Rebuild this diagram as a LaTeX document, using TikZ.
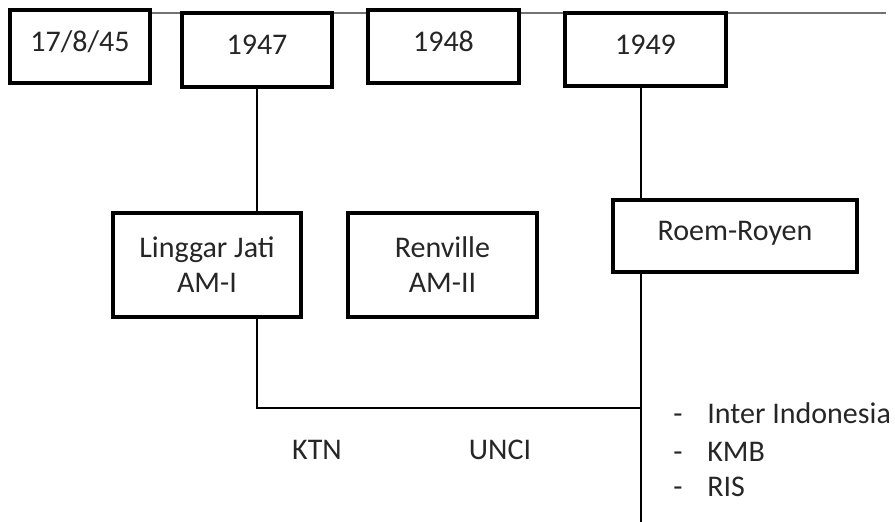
\documentclass[tikz,border=0pt]{standalone}
\usepackage{fontspec}
\setmainfont{Carlito}
\usetikzlibrary{backgrounds}
\begin{document}
\begin{tikzpicture}[x=0.5pt,y=-0.5pt,
  every node/.style={font=\fontsize{15}{17.5}\selectfont, text=black!85},
  box/.style={draw=black, line width=2pt, fill=white, inner sep=0pt},
  yearbox/.style={box, text height=10pt, text depth=5pt},
  twobox/.style={box, align=center},
  conn/.style={draw=black, line width=0.9pt},
  axis/.style={draw=black!55, line width=1pt},
  plain/.style={inner sep=0pt},
  item/.style={inner sep=0pt, anchor=base west}]
\useasboundingbox (0,0) rectangle (895,522);

% timeline boxes
\node[yearbox, minimum width=70pt, minimum height=36.5pt] (y45) at (80,46.5) {17/8/45};
\node[yearbox, minimum width=75pt, minimum height=37pt] (y47) at (257,50) {1947};
\node[yearbox, minimum width=75.5pt, minimum height=36.5pt] (y48) at (443.5,46.5) {1948};
\node[yearbox, minimum width=80.5pt, minimum height=36.5pt] (y49) at (645.5,49.5) {1949};

% agreement boxes
\node[twobox, minimum width=94pt, minimum height=52pt] (lj) at (207,265) {Linggar Jati\\AM-I};
\node[twobox, minimum width=94.5pt, minimum height=52pt] (rv) at (442.5,265) {Renville\\AM-II};
\node[yearbox, minimum width=122pt, minimum height=36pt] (rr) at (735,236) {Roem-Royen};

% labels
\node[plain, anchor=base] (ktn) at (317,459.5) {KTN};
\node[plain, anchor=base] (unci) at (500,459.5) {UNCI};
\node[item] (i1) at (673,424) {\makebox[17pt][l]{-}Inter Indonesia};
\node[item] (i2) at (673,461.5) {\makebox[17pt][l]{-}KMB};
\node[item] (i3) at (673,497) {\makebox[17pt][l]{-}RIS};

% coordinates
\coordinate (tl) at (10,13);
\coordinate (tr) at (886,13);
\coordinate (j) at (641,408);
\coordinate (bot) at (641,522);

\begin{pgfonlayer}{background}
  \path[axis] (tl) -- (tr);
  \path[conn] (y47.south) -- (y47.south |- lj.north);
  \path[conn] (y47.south |- lj.south) |- (j);
  \path[conn] (j |- y49.south) -- (bot);
\end{pgfonlayer}
\end{tikzpicture}
\end{document}
